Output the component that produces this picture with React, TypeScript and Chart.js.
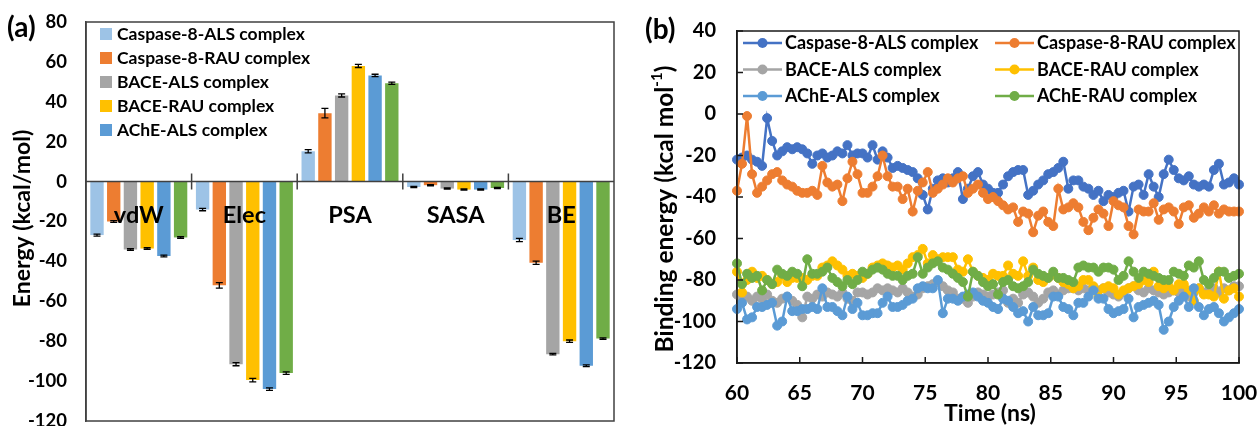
import React, { useEffect, useRef } from "react";
import { Chart, registerables } from "chart.js";

Chart.register(...registerables);

const FONT = "Lato, 'Open Sans', sans-serif";

// ---------- Panel (a): MM-PBSA energy terms ----------
const energyTerms = ["vdW", "Elec", "PSA", "SASA", "BE"];
const complexNames = [
  "Caspase-8-ALS complex",
  "Caspase-8-RAU complex",
  "BACE-ALS complex",
  "BACE-RAU complex",
  "AChE-ALS complex",
  "AChE-RAU complex",
];
const barColors = ["#9DC3E6", "#ED7D31", "#A5A5A5", "#FFC000", "#5B9BD5", "#70AD47"];
const casp8AlsEnergy = [-26.8, -14.0, 15.2, -2.7, -29.3];
const casp8RauEnergy = [-20.0, -52.0, 34.3, -1.8, -40.7];
const baceAlsEnergy = [-34.0, -91.5, 43.2, -3.5, -86.5];
const baceRauEnergy = [-33.5, -99.5, 58.0, -4.0, -80.0];
const acheAlsEnergy = [-37.3, -104.0, 53.2, -4.0, -92.3];
const acheRauEnergy = [-28.0, -96.0, 49.3, -3.2, -78.7];
const casp8AlsErr = [0.5, 0.6, 0.8, 0.3, 0.8];
const casp8RauErr = [0.4, 1.4, 2.4, 0.3, 0.8];
const baceAlsErr = [0.4, 0.8, 0.8, 0.3, 0.4];
const baceRauErr = [0.4, 0.9, 0.8, 0.3, 0.6];
const acheAlsErr = [0.4, 0.6, 0.6, 0.3, 0.4];
const acheRauErr = [0.4, 0.6, 0.6, 0.3, 0.4];
const energyMin = -120;
const energyMax = 80;
const energyStep = 20;
const legendCountA = 5;

// ---------- Panel (b): binding energy vs time ----------
const timeNs = [
  60, 60.4, 60.8, 61.2, 61.6, 62, 62.4, 62.8, 63.2, 63.6,
  64, 64.4, 64.8, 65.2, 65.6, 66, 66.4, 66.8, 67.2, 67.6,
  68, 68.4, 68.8, 69.2, 69.6, 70, 70.4, 70.8, 71.2, 71.6,
  72, 72.4, 72.8, 73.2, 73.6, 74, 74.4, 74.8, 75.2, 75.6,
  76, 76.4, 76.8, 77.2, 77.6, 78, 78.4, 78.8, 79.2, 79.6,
  80, 80.4, 80.8, 81.2, 81.6, 82, 82.4, 82.8, 83.2, 83.6,
  84, 84.4, 84.8, 85.2, 85.6, 86, 86.4, 86.8, 87.2, 87.6,
  88, 88.4, 88.8, 89.2, 89.6, 90, 90.4, 90.8, 91.2, 91.6,
  92, 92.4, 92.8, 93.2, 93.6, 94, 94.4, 94.8, 95.2, 95.6,
  96, 96.4, 96.8, 97.2, 97.6, 98, 98.4, 98.8, 99.2, 99.6,
  100,
];
const casp8AlsBE = [
  -22, -21, -20, -22, -23, -25, -2, -13, -20, -18,
  -16, -17, -16, -17, -19, -24, -20, -19, -21, -20,
  -18, -19, -15, -20, -19, -19, -21, -15, -22, -18,
  -21, -26, -25, -26, -27, -28, -31, -39, -46, -36,
  -32, -31, -33, -31, -28, -41, -36, -30, -28, -34,
  -36, -38, -38, -34, -30, -28, -27, -27, -39, -37,
  -34, -32, -29, -28, -26, -23, -36, -32, -32, -35,
  -36, -39, -37, -42, -39, -40, -38, -37, -47, -35,
  -34, -39, -29, -35, -40, -29, -22, -27, -31, -32,
  -30, -34, -35, -34, -35, -27, -24, -34, -33, -31,
  -34,
];
const casp8RauBE = [
  -37, -24, -1, -29, -38, -35, -32, -29, -28, -32,
  -34, -35, -37, -38, -38, -37, -39, -25, -33, -35,
  -34, -42, -31, -23, -29, -38, -38, -35, -30, -20,
  -30, -35, -35, -41, -36, -47, -37, -33, -28, -38,
  -36, -34, -31, -33, -31, -30, -38, -36, -34, -38,
  -41, -40, -42, -44, -46, -45, -52, -47, -48, -57,
  -49, -47, -52, -54, -36, -46, -45, -43, -45, -52,
  -56, -50, -46, -48, -54, -42, -44, -45, -54, -58,
  -46, -47, -47, -43, -51, -46, -45, -47, -53, -45,
  -44, -50, -48, -45, -47, -44, -48, -46, -47, -47,
  -47,
];
const baceAlsBE = [
  -87, -89, -88, -90, -88, -89, -87, -90, -91, -89,
  -88, -90, -92, -98, -88, -89, -87, -88, -86, -87,
  -88, -86, -89, -90, -86, -86, -87, -86, -84, -85,
  -84, -85, -86, -84, -86, -88, -87, -84, -83, -82,
  -81, -83, -85, -86, -89, -89, -91, -88, -86, -87,
  -88, -87, -86, -85, -91, -89, -91, -87, -86, -88,
  -91, -89, -86, -85, -87, -85, -84, -84, -85, -84,
  -85, -84, -85, -84, -86, -87, -88, -86, -84, -83,
  -85, -86, -84, -85, -86, -87, -86, -85, -86, -84,
  -88, -86, -84, -86, -85, -84, -86, -84, -85, -83,
  -83,
];
const baceRauBE = [
  -76, -86, -80, -76, -79, -78, -80, -82, -81, -78,
  -81, -79, -79, -79, -80, -78, -78, -74, -73, -71,
  -73, -75, -78, -77, -78, -79, -77, -74, -73, -72,
  -73, -74, -73, -75, -72, -69, -68, -65, -72, -68,
  -70, -69, -69, -69, -75, -76, -70, -76, -78, -79,
  -80, -77, -78, -78, -73, -77, -78, -71, -78, -74,
  -80, -81, -79, -77, -79, -81, -82, -84, -83, -80,
  -80, -83, -88, -84, -83, -84, -87, -85, -84, -83,
  -82, -80, -81, -76, -83, -84, -83, -85, -82, -82,
  -85, -90, -84, -87, -87, -88, -76, -89, -85, -84,
  -88,
];
const acheAlsBE = [
  -94, -91, -99, -98, -93, -93, -92, -91, -102, -100,
  -88, -95, -95, -94, -94, -93, -94, -84, -93, -93,
  -95, -97, -88, -94, -91, -97, -97, -96, -96, -91,
  -88, -93, -93, -92, -90, -89, -84, -83, -84, -84,
  -80, -96, -89, -89, -90, -88, -87, -86, -88, -90,
  -91, -93, -94, -89, -90, -93, -96, -95, -100, -93,
  -97, -97, -96, -88, -88, -93, -94, -97, -91, -91,
  -88, -85, -89, -89, -94, -96, -95, -94, -89, -98,
  -93, -92, -91, -90, -92, -104, -100, -93, -90, -88,
  -93, -84, -93, -97, -94, -93, -96, -100, -98, -96,
  -94,
];
const acheRauBE = [
  -72, -82, -77, -79, -78, -85, -80, -82, -75, -77,
  -78, -76, -77, -83, -70, -77, -77, -76, -74, -79,
  -81, -83, -80, -82, -80, -76, -77, -75, -74, -75,
  -77, -78, -78, -80, -78, -77, -69, -77, -74, -72,
  -71, -74, -75, -77, -79, -81, -88, -76, -78, -81,
  -83, -82, -87, -81, -80, -83, -84, -83, -81, -75,
  -77, -78, -79, -76, -79, -79, -80, -81, -74, -73,
  -74, -74, -76, -74, -74, -75, -80, -78, -71, -76,
  -79, -76, -77, -78, -79, -80, -80, -76, -77, -78,
  -73, -74, -71, -80, -82, -79, -76, -76, -79, -78,
  -77,
];
const lineColors = ["#4472C4", "#ED7D31", "#A5A5A5", "#FFC000", "#5B9BD5", "#70AD47"];
const timeMin = 60;
const timeMax = 100;
const timeStep = 5;
const beMin = -120;
const beMax = 40;
const beStep = 20;

const barSeries = [casp8AlsEnergy, casp8RauEnergy, baceAlsEnergy, baceRauEnergy, acheAlsEnergy, acheRauEnergy];
const barErrors = [casp8AlsErr, casp8RauErr, baceAlsErr, baceRauErr, acheAlsErr, acheRauErr];
const lineSeries = [casp8AlsBE, casp8RauBE, baceAlsBE, baceRauBE, acheAlsBE, acheRauBE];

const panelAPlugin = {
  id: "panelA",
  afterDatasetsDraw(chart: any) {
    const ctx = chart.ctx;
    const a = chart.chartArea;
    const xs = chart.scales.x;
    const ys = chart.scales.y;
    ctx.save();
    // error bars
    ctx.strokeStyle = "#000";
    ctx.lineWidth = 1.3;
    chart.data.datasets.forEach((ds: any, d: number) => {
      const meta = chart.getDatasetMeta(d);
      meta.data.forEach((bar: any, i: number) => {
        const v = ds.data[i];
        const e = ds.errors[i];
        const y1 = ys.getPixelForValue(v - e);
        const y2 = ys.getPixelForValue(v + e);
        const cap = 3.5;
        ctx.beginPath();
        ctx.moveTo(bar.x, y1);
        ctx.lineTo(bar.x, y2);
        ctx.moveTo(bar.x - cap, y1);
        ctx.lineTo(bar.x + cap, y1);
        ctx.moveTo(bar.x - cap, y2);
        ctx.lineTo(bar.x + cap, y2);
        ctx.stroke();
      });
    });
    // zero line + category separators
    const y0 = ys.getPixelForValue(0);
    ctx.strokeStyle = "#404040";
    ctx.lineWidth = 1.5;
    ctx.beginPath();
    ctx.moveTo(a.left, y0);
    ctx.lineTo(a.right, y0);
    for (let i = 1; i < energyTerms.length; i++) {
      const x = (xs.getPixelForValue(i - 1) + xs.getPixelForValue(i)) / 2;
      ctx.moveTo(x, y0 - 8);
      ctx.lineTo(x, y0 + 8);
    }
    ctx.stroke();
    // category labels below the zero line
    ctx.fillStyle = "#000";
    ctx.font = `bold 23.5px ${FONT}`;
    ctx.textAlign = "center";
    ctx.textBaseline = "middle";
    energyTerms.forEach((t, i) => {
      ctx.fillText(t, xs.getPixelForValue(i), y0 + 34);
    });
    ctx.restore();
  },
  afterDraw(chart: any) {
    const ctx = chart.ctx;
    const a = chart.chartArea;
    ctx.save();
    // frame
    ctx.strokeStyle = "#404040";
    ctx.lineWidth = 1.5;
    ctx.strokeRect(a.left, a.top, a.right - a.left, a.bottom - a.top);
    // legend
    ctx.font = `bold 17.5px ${FONT}`;
    ctx.textBaseline = "middle";
    ctx.textAlign = "left";
    for (let i = 0; i < legendCountA; i++) {
      const cy = a.top + 12 + i * 24;
      ctx.fillStyle = barColors[i];
      ctx.fillRect(a.left + 14, cy - 6, 12, 12);
      ctx.fillStyle = "#000";
      ctx.fillText(complexNames[i], a.left + 31, cy + 0.5);
    }
    // axis title
    ctx.save();
    ctx.translate(23, (a.top + a.bottom) / 2 - 3);
    ctx.rotate(-Math.PI / 2);
    ctx.textAlign = "center";
    ctx.textBaseline = "middle";
    ctx.font = `bold 23px ${FONT}`;
    ctx.fillText("Energy (kcal/mol)", 0, 0);
    ctx.restore();
    // panel label
    ctx.font = `bold 28px ${FONT}`;
    ctx.textAlign = "left";
    ctx.textBaseline = "middle";
    ctx.fillText("(a)", 7, 28);
    ctx.restore();
  },
};

const panelBPlugin = {
  id: "panelB",
  afterDraw(chart: any) {
    const ctx = chart.ctx;
    const a = chart.chartArea;
    const xs = chart.scales.x;
    const ys = chart.scales.y;
    ctx.save();
    ctx.strokeStyle = "#1a1a1a";
    ctx.lineWidth = 1.5;
    ctx.strokeRect(a.left, a.top, a.right - a.left, a.bottom - a.top);
    ctx.beginPath();
    xs.ticks.forEach((t: any) => {
      const x = xs.getPixelForValue(t.value);
      ctx.moveTo(x, a.bottom);
      ctx.lineTo(x, a.bottom - 6);
    });
    ys.ticks.forEach((t: any) => {
      const y = ys.getPixelForValue(t.value);
      ctx.moveTo(a.left, y);
      ctx.lineTo(a.left + 6, y);
    });
    ctx.stroke();
    // legend (2 columns x 3 rows)
    ctx.font = `bold 18px ${FONT}`;
    ctx.textBaseline = "middle";
    ctx.textAlign = "left";
    chart.data.datasets.forEach((ds: any, i: number) => {
      const row = Math.floor(i / 2);
      const col = i % 2;
      const x0 = a.left + 6 + col * 252;
      const cy = a.top + 12 + row * 26.5;
      ctx.strokeStyle = ds.borderColor;
      ctx.lineWidth = 2.5;
      ctx.beginPath();
      ctx.moveTo(x0, cy);
      ctx.lineTo(x0 + 39, cy);
      ctx.stroke();
      ctx.fillStyle = ds.borderColor;
      ctx.beginPath();
      ctx.arc(x0 + 19.5, cy, 5, 0, Math.PI * 2);
      ctx.fill();
      ctx.fillStyle = "#000";
      ctx.fillText(ds.label, x0 + 42, cy + 0.5);
    });
    // y title with superscript
    ctx.save();
    ctx.translate(40, 209);
    ctx.rotate(-Math.PI / 2);
    ctx.fillStyle = "#000";
    ctx.textAlign = "left";
    ctx.textBaseline = "middle";
    const mainFont = `bold 24.5px ${FONT}`;
    const supFont = `bold 15px ${FONT}`;
    const p1 = "Binding energy (kcal mol";
    const p2 = "-1";
    const p3 = ")";
    ctx.font = mainFont;
    const w1 = ctx.measureText(p1).width;
    const w3 = ctx.measureText(p3).width;
    ctx.font = supFont;
    const w2 = ctx.measureText(p2).width;
    let x = -(w1 + w2 + w3) / 2;
    ctx.font = mainFont;
    ctx.fillText(p1, x, 0);
    x += w1;
    ctx.font = supFont;
    ctx.fillText(p2, x, -8);
    x += w2;
    ctx.font = mainFont;
    ctx.fillText(p3, x, 0);
    ctx.restore();
    // x title
    ctx.fillStyle = "#000";
    ctx.font = `bold 23px ${FONT}`;
    ctx.textAlign = "center";
    ctx.textBaseline = "middle";
    ctx.fillText("Time (ns)", (a.left + a.right) / 2 + 2, 414);
    // panel label
    ctx.font = `bold 28px ${FONT}`;
    ctx.textAlign = "left";
    ctx.fillText("(b)", 20, 30);
    ctx.restore();
  },
};

export default function App() {
  const refA = useRef<HTMLCanvasElement | null>(null);
  const refB = useRef<HTMLCanvasElement | null>(null);

  useEffect(() => {
    const chartA = new Chart(refA.current as HTMLCanvasElement, {
      type: "bar",
      data: {
        labels: energyTerms,
        datasets: complexNames.map((name, i) => ({
          label: name,
          data: barSeries[i],
          errors: barErrors[i],
          backgroundColor: barColors[i],
          borderWidth: 0,
          categoryPercentage: 0.95,
          barPercentage: 0.8,
        })) as any,
      },
      options: {
        responsive: false,
        animation: false,
        events: [],
        layout: { padding: { left: 0, right: 11, top: 22, bottom: 5 } },
        plugins: { legend: { display: false }, tooltip: { enabled: false } },
        scales: {
          x: {
            type: "category",
            display: false,
            offset: true,
          },
          y: {
            min: energyMin,
            max: energyMax,
            grid: { display: false, drawTicks: false },
            border: { display: true, color: "#404040", width: 1.5 },
            ticks: {
              stepSize: energyStep,
              padding: 19,
              color: "#000",
              font: { family: FONT, size: 18.5, weight: "bold" },
            },
            afterFit: (s: any) => {
              s.width = 86;
              s.paddingTop = 0;
              s.paddingBottom = 0;
            },
          },
        },
      } as any,
      plugins: [panelAPlugin],
    });

    const chartB = new Chart(refB.current as HTMLCanvasElement, {
      type: "line",
      data: {
        datasets: complexNames.map((name, i) => ({
          label: name,
          data: timeNs.map((t, k) => ({ x: t, y: lineSeries[i][k] })),
          borderColor: lineColors[i],
          backgroundColor: lineColors[i],
          pointBackgroundColor: lineColors[i],
          pointBorderColor: lineColors[i],
          borderWidth: 2.5,
          pointRadius: 4.5,
          pointBorderWidth: 1,
          tension: 0,
          clip: false,
          order: complexNames.length - i,
        })),
      },
      options: {
        responsive: false,
        animation: false,
        events: [],
        layout: { padding: { left: 0, right: 18, top: 31, bottom: 0 } },
        plugins: { legend: { display: false }, tooltip: { enabled: false } },
        scales: {
          x: {
            type: "linear",
            min: timeMin,
            max: timeMax,
            grid: { display: false, drawTicks: false },
            border: { display: true, color: "#1a1a1a", width: 1.5 },
            ticks: {
              stepSize: timeStep,
              padding: 18,
              color: "#000",
              font: { family: FONT, size: 21, weight: "bold" },
            },
            afterFit: (s: any) => {
              s.height = 63;
              s.paddingLeft = 0;
              s.paddingRight = 0;
            },
          },
          y: {
            min: beMin,
            max: beMax,
            grid: { display: false, drawTicks: false },
            border: { display: true, color: "#1a1a1a", width: 1.5 },
            ticks: {
              stepSize: beStep,
              padding: 21,
              color: "#000",
              font: { family: FONT, size: 20, weight: "bold" },
            },
            afterFit: (s: any) => {
              s.width = 112;
              s.paddingTop = 0;
              s.paddingBottom = 0;
            },
          },
        },
      } as any,
      plugins: [panelBPlugin],
    });

    return () => {
      chartA.destroy();
      chartB.destroy();
    };
  }, []);

  return (
    <div
      style={{
        position: "fixed",
        left: 0,
        top: 0,
        width: 1257,
        height: 426,
        background: "#fff",
        overflow: "hidden",
      }}
    >
      <canvas
        ref={refA}
        width={625}
        height={426}
        style={{ position: "absolute", left: 0, top: 0, width: 625, height: 426 }}
      />
      <canvas
        ref={refB}
        width={632}
        height={426}
        style={{ position: "absolute", left: 625, top: 0, width: 632, height: 426 }}
      />
    </div>
  );
}
